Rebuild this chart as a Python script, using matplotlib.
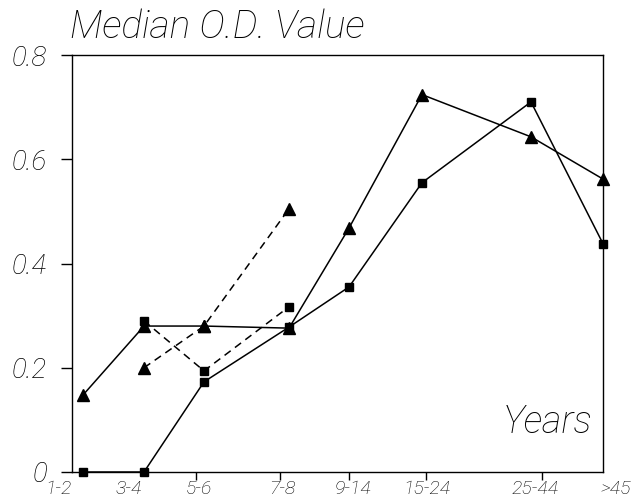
import matplotlib
matplotlib.use('Agg')
import matplotlib.pyplot as plt
import matplotlib.transforms as mtransforms

# age groups (x axis categories)
ages = ['1-2', '3-4', '5-6', '7-8', '9-14', '15-24', '25-44', '>45']

# solid line, squares
od_sq = [0.0, 0.0, 0.173, 0.278, 0.355, 0.555, 0.71, 0.438]
# solid line, triangles
od_tri = [0.148, 0.28, 0.28, 0.276, 0.468, 0.724, 0.643, 0.562]
# dashed lines (ages 3-4 .. 7-8 only)
dash_ages = ['3-4', '5-6', '7-8']
od_sq_dash = [0.29, 0.194, 0.317]
od_tri_dash = [0.2, 0.28, 0.505]

y_ticks = [0, 0.2, 0.4, 0.6, 0.8]
y_labels = ['0', '0.2', '0.4', '0.6', '0.8']

# layout: the original axis is unevenly spaced
x_pos = dict(zip(ages, [0.21, 1.356, 2.486, 4.087, 5.217, 6.591, 8.644, 10.0]))
label_pos = [-0.264, 1.073, 2.392, 3.955, 5.292, 6.686, 8.719, 10.245]
mark_pos = [2.335, 3.917, 5.217, 6.667, 8.851]

font = dict(family=['Roboto', 'DejaVu Sans'], style='italic', weight='light', color='black')

fig = plt.figure(figsize=(6.31, 4.99), dpi=100)
ax = fig.add_axes([72/631, 27/499, 531/631, 417/499])

xs = [x_pos[a] for a in ages]
xd = [x_pos[a] for a in dash_ages]
ax.plot(xs, od_sq, '-', color='black', lw=1.1, marker='s', ms=6, clip_on=False, zorder=3)
ax.plot(xs, od_tri, '-', color='black', lw=1.1, marker='^', ms=8, clip_on=False, zorder=3)
ax.plot(xd, od_sq_dash, '--', color='black', lw=1.1, marker='s', ms=6, dashes=(5, 3.5), clip_on=False, zorder=3)
ax.plot(xd, od_tri_dash, '--', color='black', lw=1.1, marker='^', ms=8, dashes=(5, 3.5), clip_on=False, zorder=3)

ax.set_yticks(y_ticks)
ax.set_yticklabels(y_labels, fontsize=20, **font)
ax.tick_params(axis='y', direction='out', length=8, width=1, pad=10)

ax.set_xticks(mark_pos)
ax.set_xticklabels([''] * len(mark_pos))
ax.tick_params(axis='x', direction='out', length=6, width=1)

ax.set_xlim(0, 10)
ax.set_ylim(0, 0.8)

# category labels sit off the tick marks in the original, so place them as text
blend = mtransforms.blended_transform_factory(ax.transData, ax.transAxes)
for xp, lab in zip(label_pos, ages):
    ax.text(xp, -0.052, lab, transform=blend, ha='center', va='baseline',
            fontsize=14, clip_on=False, **font)

for s in ax.spines.values():
    s.set_linewidth(1.0)

ax.text(-0.004, 1.041, 'Median O.D. Value', transform=ax.transAxes,
        fontsize=28, ha='left', va='baseline', **font)
ax.text(0.98, 0.094, 'Years', transform=ax.transAxes,
        fontsize=27, ha='right', va='baseline', **font)

fig.savefig('out.png', dpi=100)
